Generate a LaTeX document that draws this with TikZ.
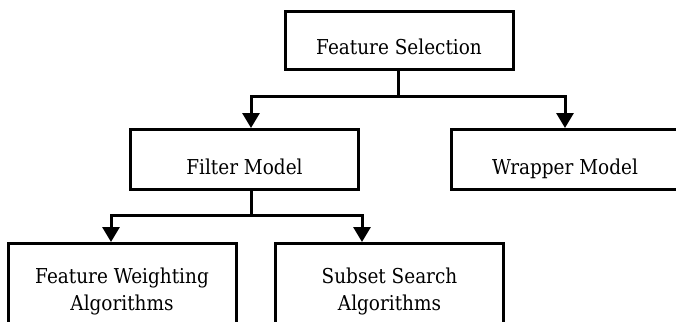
\documentclass[tikz,border=0pt]{standalone}
\usepackage{fontspec}
\setmainfont[FakeStretch=0.9]{DejaVu Serif}
\usetikzlibrary{arrows.meta}
\begin{document}
\begin{tikzpicture}[x=1pt,y=-1pt,line width=3pt,font=\fontsize{20.5}{27}\selectfont,
box/.style={draw,rectangle,minimum width=228pt,minimum height=60pt,inner sep=0pt,text height=29pt,text depth=0pt},
twoline/.style={draw,rectangle,minimum width=228pt,minimum height=95pt,inner sep=0pt,align=center},
down/.style={-{Triangle[length=15pt,width=17pt]}}]
\clip(0,0)rectangle(676,321);
\node[box,minimum height=58pt](fs)at(399,40.5){Feature Selection};
\node[box](filter)at(244.5,159.5){Filter Model};
\node[box](wrapper)at(565,159.5){Wrapper Model};
\node[twoline](weight)at(122,291){Feature Weighting\\Algorithms};
\node[twoline](subset)at(389.5,291){Subset Search\\Algorithms};
\coordinate(j1)at(398,96);
\coordinate(j2)at(251,215);
\draw(fs.south-|j1)--(j1);
\draw[down](j1)-|(filter.north-|j2);
\draw[down](j1)-|(wrapper.north);
\draw(filter.south-|j2)--(j2);
\draw[down](j2)-|([xshift=-11pt]weight.north);
\draw[down](j2)-|([xshift=-27.5pt]subset.north);
\end{tikzpicture}
\end{document}
